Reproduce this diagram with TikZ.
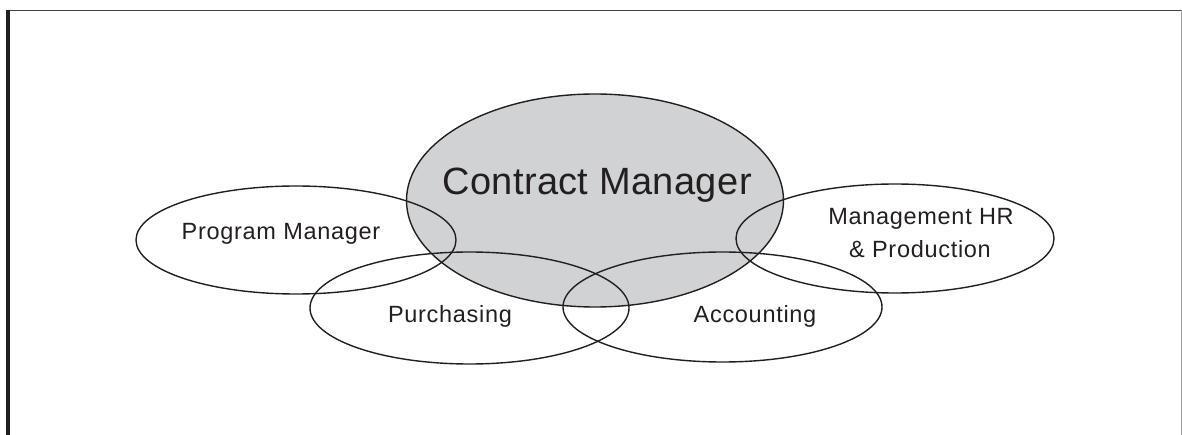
\documentclass[tikz,border=0pt]{standalone}
\usepackage{fontspec}
\setmainfont{Liberation Sans}
\newfontfamily\lblfont[LetterSpace=3]{Liberation Sans}
\newfontfamily\bigfont[LetterSpace=1]{Liberation Sans}
\usetikzlibrary{shapes.geometric}
\definecolor{cmgray}{HTML}{D1D2D4}
\definecolor{ink}{HTML}{231F20}
\tikzset{
  oval/.style={ellipse, draw=ink, line width=1.4pt, inner sep=0pt},
  lbl/.style={anchor=base, text=ink, inner sep=0pt, font=\lblfont\fontsize{23.5}{28}\selectfont},
}
\begin{document}
\begin{tikzpicture}[x=1pt,y=-1pt]
\useasboundingbox (0,0) rectangle (1182,435);
% frame
\draw[ink!85, line width=1.8pt] (6,10.5) -- (1182,10.5);
\draw[ink, line width=4.2pt] (8.2,9.6) -- (8.2,435);
\draw[black!40, line width=0.8pt] (1181,10) -- (1181,435);
% ellipses
\node[oval, fill=cmgray, minimum width=377pt, minimum height=213pt] (cm) at (595,200.5) {};
\node[oval, minimum width=320pt, minimum height=108pt] (pm) at (296,240) {};
\node[oval, minimum width=319pt, minimum height=112pt] (pu) at (469.5,308) {};
\node[oval, minimum width=319pt, minimum height=110pt] (ac) at (722.5,307) {};
\node[oval, minimum width=318pt, minimum height=109pt] (hr) at (895,238.5) {};
% labels
\node[lbl, font=\bigfont\fontsize{38}{44}\selectfont] (cmt) at (597,195) {Contract Manager};
\node[lbl] (pmt) at (281,240) {Program Manager};
\node[lbl] (put) at (450,322) {Purchasing};
\node[lbl] (act) at (755,322) {Accounting};
\node[lbl] (hrt1) at (921,225) {Management HR};
\node[lbl] (hrt2) at (920,258) {\& Production};
\end{tikzpicture}
\end{document}
